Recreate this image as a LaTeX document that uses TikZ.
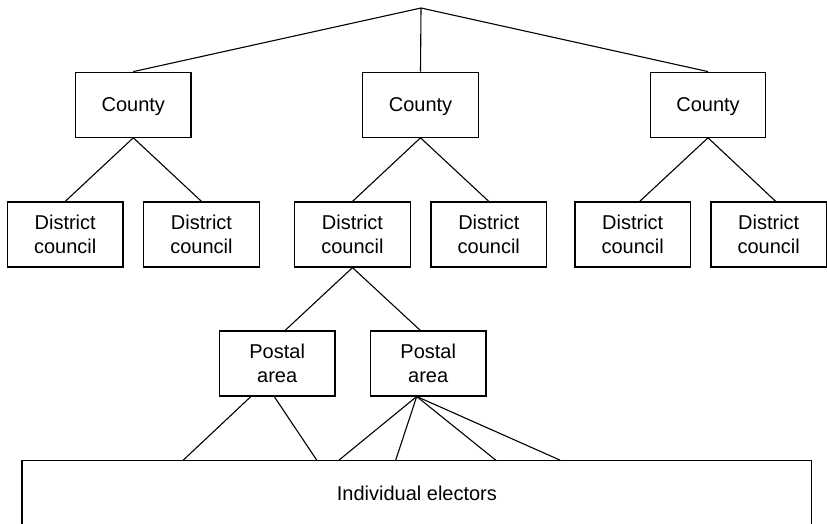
\documentclass[tikz,border=0pt]{standalone}
\usepackage{fontspec}
\setmainfont{Liberation Sans}
\begin{document}
\begin{tikzpicture}[x=1pt,y=-1pt,
  box/.style={draw, line width=1.2pt, minimum width=115.5pt, minimum height=65pt,
    inner sep=0pt, align=center, font=\fontsize{20}{24}\selectfont},
  county/.style={box, text depth=0pt},
  link/.style={draw, line width=1.1pt}]
\path[use as bounding box, clip] (0,0) rectangle (827,523);
\coordinate (top) at (421,8);
% counties
\node[county] (c1) at (133.3,104.7) {County};
\node[county] (c2) at (420.5,104.7) {County};
\node[county] (c3) at (708,104.7) {County};
% district councils
\node[box] (d1) at (65.2,234.5) {District\\council};
\node[box] (d2) at (201.5,234.5) {District\\council};
\node[box] (d3) at (352.5,234.5) {District\\council};
\node[box] (d4) at (488.8,234.5) {District\\council};
\node[box] (d5) at (632.7,234.5) {District\\council};
\node[box] (d6) at (768.7,234.5) {District\\council};
% postal areas
\node[box] (p1) at (277.2,363.4) {Postal\\area};
\node[box] (p2) at (428.2,363.4) {Postal\\area};
% electors
\node[box, minimum width=789.7pt, minimum height=64.6pt] (e) at (416.9,493) {Individual electors};
% connectors
\path[link] (top) -- (c1.north);
\path[link] (top) -- (c2.north);
\path[link] (top) -- (c3.north);
\path[link] (c1.south) -- (d1.north);
\path[link] (c1.south) -- (d2.north);
\path[link] (c2.south) -- (d3.north);
\path[link] (c2.south) -- (d4.north);
\path[link] (c3.south) -- ([xshift=7pt]d5.north);
\path[link] (c3.south) -- ([xshift=7pt]d6.north);
\path[link] (d3.south) -- ([xshift=8pt]p1.north);
\path[link] (d3.south) -- ([xshift=-8pt]p2.north);
\path[link] ([xshift=-26.3pt]p1.south) -- ([xshift=-233.6pt]e.north);
\path[link] ([xshift=-3pt]p1.south) -- ([xshift=-100.2pt]e.north);
\path[link] ([xshift=-11.5pt]p2.south) -- ([xshift=-77.9pt]e.north);
\path[link] ([xshift=-11.5pt]p2.south) -- ([xshift=-21.2pt]e.north);
\path[link] ([xshift=-11.5pt]p2.south) -- ([xshift=78.8pt]e.north);
\path[link] ([xshift=-11.5pt]p2.south) -- ([xshift=143.1pt]e.north);
\end{tikzpicture}
\end{document}
